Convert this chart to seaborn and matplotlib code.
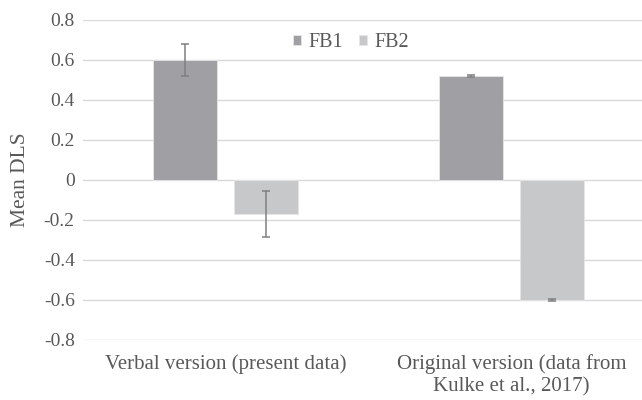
import matplotlib
matplotlib.use("Agg")
import matplotlib.pyplot as plt
import pandas as pd
import seaborn as sns

# values
conditions = ["Verbal version (present data)", "Original version (data from\nKulke et al., 2017)"]
beliefs = ["FB1", "FB2"]
fb1_means = [0.60, 0.52]
fb2_means = [-0.17, -0.60]
fb1_err = [0.08, 0.003]
fb2_err = [0.115, 0.003]
y_ticks = [0.8, 0.6, 0.4, 0.2, 0, -0.2, -0.4, -0.6, -0.8]
y_tick_labels = ["0.8", "0.6", "0.4", "0.2", "0", "-0.2", "-0.4", "-0.6", "-0.8"]

text_color = "#595959"
grid_color = "#d9d9d9"
bar_colors = {"FB1": "#a0a0a4", "FB2": "#c7c8ca"}

df = pd.DataFrame({
    "condition": conditions * 2,
    "belief": ["FB1"] * len(conditions) + ["FB2"] * len(conditions),
    "mean": fb1_means + fb2_means,
})
errs = {"FB1": fb1_err, "FB2": fb2_err}

sns.set_style("white")
plt.rcParams["font.family"] = ["Liberation Serif", "DejaVu Serif"]

fig = plt.figure(figsize=(6.42, 4.0), dpi=100)
ax = fig.add_axes([0.1293, 0.15, 0.89, 0.80])

sns.barplot(data=df, x="condition", y="mean", hue="belief", hue_order=beliefs,
            order=conditions, palette=bar_colors, width=0.567, gap=0.21,
            errorbar=None, edgecolor="#e6e6e6", linewidth=0.6, ax=ax)

# error bars on top of each bar
for container, belief in zip(ax.containers, beliefs):
    for patch, err in zip(container.patches, errs[belief]):
        x = patch.get_x() + patch.get_width() / 2
        y = patch.get_y() + patch.get_height()
        ax.errorbar(x, y, yerr=err, color="#7f7f7f", elinewidth=1.1,
                    capsize=3, capthick=1.1, zorder=5)

ax.set_xlim(-0.5, 1.5)
ax.set_ylim(-0.8, 0.8)
ax.set_yticks(y_ticks)
ax.set_yticklabels(y_tick_labels)
ax.yaxis.grid(True, color=grid_color, linewidth=1.0)
ax.set_axisbelow(True)
for s in ax.spines.values():
    s.set_visible(False)

ax.tick_params(axis="both", length=0, colors=text_color)
ax.tick_params(axis="y", pad=6, labelsize=14)
ax.tick_params(axis="x", pad=10, labelsize=15)
for lbl in ax.get_xticklabels():
    lbl.set_multialignment("center")
    lbl.set_linespacing(1.25)

ax.set_xlabel("")
ax.set_ylabel("Mean DLS", color=text_color, fontsize=15.5)
ax.yaxis.set_label_coords(-0.092, 0.5)

ax.legend(loc="center", bbox_to_anchor=(0.469, 0.93), ncol=2, frameon=False,
          handlelength=0.4, handleheight=0.4, handletextpad=0.35,
          columnspacing=0.8, labelcolor=text_color, fontsize=14.5,
          borderpad=0.1)

fig.savefig("out.png", dpi=100)
